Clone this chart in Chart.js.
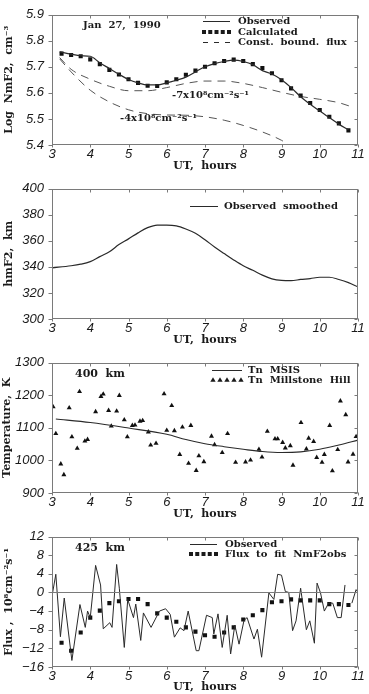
<!DOCTYPE html>
<html><head><meta charset="utf-8">
<script src="https://cdn.jsdelivr.net/npm/chart.js@4.4.1/dist/chart.umd.min.js"></script>
<style>
html,body{margin:0;padding:0;background:#fff;overflow:hidden;}
.p{position:absolute;left:0;width:369px;}
canvas{display:block;}
</style></head><body>
<div class="p" style="top:0px;height:174px"><canvas id="c1" width="369" height="174"></canvas></div>
<div class="p" style="top:174px;height:174px"><canvas id="c2" width="369" height="174"></canvas></div>
<div class="p" style="top:348px;height:174px"><canvas id="c3" width="369" height="174"></canvas></div>
<div class="p" style="top:522px;height:172px"><canvas id="c4" width="369" height="172"></canvas></div>
<script>
// ---------- DATA ----------
const xTicks = [3,4,5,6,7,8,9,10,11];

// Panel 1: Log NmF2
const nmObsX = [3.2,3.5,3.75,4.0,4.25,4.5,4.75,5.0,5.25,5.5,5.75,6.0,6.25,6.5,6.75,7.0,7.25,7.5,7.75,8.0,8.25,8.5,8.75,9.0,9.25,9.5,9.75,10.0,10.25,10.5,10.75];
const nmObsY = [5.757,5.748,5.742,5.74,5.715,5.693,5.671,5.651,5.638,5.63,5.63,5.638,5.648,5.66,5.68,5.70,5.712,5.72,5.725,5.72,5.708,5.685,5.672,5.65,5.62,5.585,5.556,5.53,5.505,5.48,5.458];
const nmCalcX = [3.25,3.5,3.75,4.0,4.25,4.5,4.75,5.0,5.25,5.5,5.75,6.0,6.25,6.5,6.75,7.0,7.25,7.5,7.75,8.0,8.25,8.5,8.75,9.0,9.25,9.5,9.75,10.0,10.25,10.5,10.75];
const nmCalcY = [5.75,5.745,5.74,5.728,5.71,5.688,5.67,5.652,5.638,5.627,5.626,5.64,5.652,5.669,5.685,5.70,5.713,5.722,5.727,5.722,5.71,5.695,5.675,5.648,5.617,5.589,5.561,5.534,5.508,5.483,5.456];
const flux7X = [3.2,3.5,4.0,4.5,5.0,5.5,6.0,6.5,7.0,7.5,8.0,8.5,9.0,9.5,10.0,10.5,10.9];
const flux7Y = [5.735,5.69,5.652,5.625,5.608,5.608,5.62,5.636,5.645,5.645,5.636,5.62,5.602,5.586,5.575,5.562,5.543];
const flux4X = [3.2,3.5,4.0,4.5,5.0,5.5,6.0,6.5,7.0,7.5,8.0,8.5,9.0,9.25];
const flux4Y = [5.73,5.68,5.61,5.565,5.535,5.52,5.515,5.514,5.508,5.495,5.475,5.45,5.418,5.395];
const nmTicks = [5.4,5.5,5.6,5.7,5.8,5.9];

// Panel 2: hmF2
const hmX = [3,3.5,3.75,4,4.25,4.5,4.75,5,5.25,5.5,5.75,6,6.25,6.5,6.75,7,7.25,7.5,7.75,8,8.25,8.5,8.75,9,9.25,9.5,9.75,10,10.25,10.5,10.75,11];
const hmY = [339.2,340.8,342,344,347.8,351.5,357,361.4,366,370,372,372,371.4,369,365.7,360.7,355.2,350.2,345.3,340.8,337.3,333.6,330.8,329.6,329.4,330.3,331,332,332,330.3,327.9,324.6];
const hmTicks = [300,320,340,360,380,400];

// Panel 3: Temperature
const msisX = [3.1,4,5,6,6.5,7,7.5,8,8.5,9,9.5,10,10.5,11];
const msisY = [1127,1116,1099,1080,1064,1051,1042,1034,1027,1024,1026,1034,1047,1062];
const tnX = [3.03,3.1,3.23,3.31,3.45,3.52,3.66,3.72,3.86,3.93,4.14,4.28,4.34,4.48,4.55,4.69,4.76,4.89,4.97,5.1,5.17,5.3,5.37,5.52,5.58,5.72,5.93,6.0,6.13,6.2,6.34,6.41,
  6.57,6.63,6.77,6.84,6.97,7.17,7.25,7.45,7.59,7.8,8.06,8.19,8.41,8.49,8.63,8.83,8.9,9.03,9.1,9.23,9.3,9.51,9.65,9.71,9.84,9.92,10.06,10.12,10.26,10.33,10.47,10.54,10.68,10.74,10.87,10.95];
const tnY = [1164,1082,989,956,1161,1072,1037,1211,1059,1064,1149,1196,1203,1153,1105,1151,1199,1124,1072,1107,1108,1120,1122,1087,1047,1052,1204,1092,1168,1091,1018,1102,
  991,1107,969,1014,996,1074,1048,1024,1082,994,995,1001,1034,1010,1089,1066,1066,1055,1038,1045,985,1116,1035,1068,1058,1009,994,1018,1107,968,1033,1182,1140,995,1019,1073];
const tTicks = [900,1000,1100,1200,1300];

// Panel 4: Flux
const fxObsX = [3.0,3.1,3.22,3.32,3.52,3.73,3.87,3.93,4.0,4.14,4.27,4.34,4.51,4.57,4.69,4.76,4.89,4.98,5.13,5.19,5.32,5.39,5.59,5.81,5.97,6.09,6.2,6.35,6.45,6.56,6.77,6.84,
  7.04,7.19,7.23,7.34,7.45,7.58,7.67,7.78,7.89,8.02,8.1,8.28,8.37,8.48,8.67,8.8,8.9,9.0,9.1,9.19,9.29,9.38,9.5,9.65,9.74,9.86,9.93,10.02,10.12,10.23,10.34,10.46,10.56,10.66,10.75,10.84,10.95,11.0];
const fxObsY = [-0.8,3.9,-9.5,-1.2,-14.6,-2.6,-7.5,-4.0,-5.4,5.8,1.6,-7.8,-6.5,-7.5,6.0,0.9,-11.8,-1.5,-5.4,-2.5,-10.3,-4.4,-7.5,-4.0,-3.5,-4.7,-9.6,-7.6,-8.2,-4.0,-12.5,-12.5,
  -4.9,-5.4,-8.9,-4.6,-11.8,-4.9,-13.2,-7.0,-11.1,-6.0,-5.4,-10.0,-7.9,-13.9,-0.1,-1.5,3.9,3.7,0.2,0.0,-8.2,-6.1,0.9,-8.0,-6.1,-10.9,2.0,-0.1,-4.0,-2.3,-2.3,-5.4,-5.4,1.6,null,-2.3,0.6,0.0];
const fitX = [3.25,3.5,3.75,4.0,4.25,4.5,4.75,5.0,5.25,5.5,5.75,6.0,6.25,6.5,6.75,7.0,7.25,7.5,7.75,8.0,8.25,8.5,8.75,9.0,9.25,9.5,9.75,10.0,10.25,10.5,10.75];
const fitY = [-10.8,-12.5,-8.6,-5.4,-3.9,-2.3,-1.9,-1.4,-1.4,-2.5,-4.5,-5.4,-6.3,-7.5,-8.4,-9.2,-9.5,-8.6,-7.5,-5.8,-4.9,-3.8,-2.1,-1.9,-1.5,-1.7,-1.7,-1.7,-2.5,-2.5,-2.7];
const fxTicks = [-16,-12,-8,-4,0,4,8,12];

// ---------- HELPERS ----------
const INK = '#1a1a1a', FRAME = '#7a7a7a', LINE = '#2a2a2a';
const SERIF = '"DejaVu Serif", "Liberation Serif", serif';
const serifB = s => ({family: SERIF, size: s, weight: 'bold', lineHeight: 1});
const tickFont = {family: '"Liberation Sans", Arial, sans-serif', size: 13, style: 'italic', lineHeight: 1};
const pts = (xs, ys) => xs.map((x, i) => ({x: x, y: ys[i]}));

function drawTri(ctx, x, y, r) {
  ctx.beginPath();
  ctx.moveTo(x, y - r);
  ctx.lineTo(x + r * 0.95, y + r * 0.65);
  ctx.lineTo(x - r * 0.95, y + r * 0.65);
  ctx.closePath(); ctx.fill();
}

function seg(ctx, x0, y0, x1, y1) {
  ctx.beginPath(); ctx.moveTo(x0, y0); ctx.lineTo(x1, y1); ctx.stroke();
}

function drawFrame(chart, cfg) {
  const ctx = chart.ctx, a = chart.chartArea, xs = chart.scales.x, ys = chart.scales.y;
  ctx.save();
  ctx.strokeStyle = FRAME; ctx.lineWidth = 1;
  const L = Math.round(a.left) + 0.5, R = Math.round(a.right) - 0.5, T = Math.round(a.top) + 0.5, B = Math.round(a.bottom) - 0.5;
  if (cfg.zero) {
    const py = Math.round(ys.getPixelForValue(0)) + 0.5;
    seg(ctx, L, py, R, py);
  }
  ctx.strokeRect(L, T, R - L, B - T);
  xTicks.forEach(v => {
    const px = Math.round(xs.getPixelForValue(v)) + 0.5;
    seg(ctx, px, B, px, B + 3);
    seg(ctx, px, T, px, T + 3);
  });
  cfg.yticks.forEach(v => {
    const py = Math.round(ys.getPixelForValue(v)) + 0.5;
    seg(ctx, L - 4, py, L, py);
    seg(ctx, R, py, R - 3, py);
  });
  ctx.restore();
}

function drawDecor(chart, cfg) {
  const ctx = chart.ctx;
  ctx.save();
  ctx.fillStyle = INK; ctx.strokeStyle = LINE;
  ctx.textBaseline = 'middle'; ctx.textAlign = 'left';
  (cfg.texts || []).forEach(t => {
    ctx.font = 'bold ' + t.size + 'px ' + SERIF;
    ctx.fillText(t.t, t.x, t.y);
  });
  (cfg.legend || []).forEach(it => {
    ctx.lineWidth = 1;
    if (it.kind === 'line') {
      seg(ctx, it.x0, it.y + 0.5, it.x1, it.y + 0.5);
    } else if (it.kind === 'dash') {
      ctx.setLineDash([5, 6]);
      seg(ctx, it.x0, it.y + 0.5, it.x1, it.y + 0.5);
      ctx.setLineDash([]);
    } else if (it.kind === 'rect') {
      for (let i = 0; i < 5; i++) {
        const px = it.x0 + (it.x1 - it.x0) * i / 4;
        ctx.fillRect(px - 2, it.y - 2, 4, 4);
      }
    } else if (it.kind === 'tri') {
      for (let i = 0; i < 5; i++) {
        const px = it.x0 + (it.x1 - it.x0) * i / 4;
        drawTri(ctx, px, it.y, 2.8);
      }
    }
    ctx.font = 'bold ' + (it.size || 10) + 'px ' + SERIF;
    ctx.fillText(it.t, it.tx, it.y);
  });
  ctx.restore();
}

function makeChart(id, datasets, c) {
  const plug = {
    id: 'deco_' + id,
    afterDraw(chart) { drawFrame(chart, c); drawDecor(chart, c); }
  };
  return new Chart(document.getElementById(id), {
    type: 'line',
    data: {datasets: datasets},
    plugins: [plug],
    options: {
      responsive: false, animation: false, devicePixelRatio: 1,
      layout: {padding: {top: c.top, right: 11, left: 0, bottom: 0}},
      plugins: {legend: {display: false}, tooltip: {enabled: false}},
      elements: {point: {radius: 0}},
      scales: {
        x: {
          type: 'linear', min: 3, max: 11,
          afterFit: s => { s.height = c.xh; },
          afterBuildTicks: s => { s.ticks = xTicks.map(v => ({value: v})); },
          grid: {display: false, drawTicks: false, tickLength: 0}, border: {display: false},
          ticks: {padding: 3, color: INK, font: tickFont, maxRotation: 0, autoSkip: false, callback: v => String(v)},
          title: {display: true, text: 'UT,  hours', color: INK, font: serifB(11), padding: {top: 0, bottom: c.xtpad}}
        },
        y: {
          type: 'linear', min: c.ymin, max: c.ymax,
          afterFit: s => { s.width = 52; },
          afterBuildTicks: s => { s.ticks = c.yticks.map(v => ({value: v})); },
          grid: {display: false, drawTicks: false, tickLength: 0}, border: {display: false},
          ticks: {padding: 8, color: INK, font: tickFont, autoSkip: false, callback: c.yfmt},
          title: {display: true, text: c.ytitle, color: INK, font: serifB(11), padding: {top: c.tpad, bottom: 0}}
        }
      }
    }
  });
}

// ---------- PANEL 1 ----------
makeChart('c1', [
  {data: pts(nmObsX, nmObsY), borderColor: LINE, borderWidth: 1.2, pointRadius: 0, cubicInterpolationMode: 'monotone'},
  {data: pts(nmCalcX, nmCalcY), showLine: false, pointStyle: 'rect', pointRadius: 2.9, backgroundColor: '#111', borderWidth: 0},
  {data: pts(flux7X, flux7Y), borderColor: '#555', borderWidth: 1, borderDash: [8, 6], pointRadius: 0, cubicInterpolationMode: 'monotone'},
  {data: pts(flux4X, flux4Y), borderColor: '#555', borderWidth: 1, borderDash: [8, 6], pointRadius: 0, cubicInterpolationMode: 'monotone'}
], {
  top: 11, xh: 29, xtpad: 2, ymin: 5.4, ymax: 5.9, yticks: nmTicks, yfmt: v => v.toFixed(1),
  ytitle: 'Log  NmF2,  cm⁻³', tpad: 4,
  texts: [
    {t: 'Jan  27,  1990', x: 83, y: 25, size: 10},
    {t: '-7x10⁸cm⁻²s⁻¹', x: 172, y: 95, size: 10},
    {t: '-4x10⁸cm⁻²s⁻¹', x: 120, y: 118, size: 10}
  ],
  legend: [
    {kind: 'line', x0: 203, x1: 230, y: 21, t: 'Observed', tx: 238},
    {kind: 'rect', x0: 204, x1: 229, y: 32, t: 'Calculated', tx: 238},
    {kind: 'dash', x0: 203, x1: 230, y: 42, t: 'Const.  bound.  flux', tx: 238}
  ]
});

// ---------- PANEL 2 ----------
makeChart('c2', [
  {data: pts(hmX, hmY), borderColor: LINE, borderWidth: 1.2, pointRadius: 0, cubicInterpolationMode: 'monotone'}
], {
  top: 11, xh: 29, xtpad: 2, ymin: 300, ymax: 400, yticks: hmTicks, yfmt: v => String(v),
  ytitle: 'hmF2,  km', tpad: 4,
  texts: [],
  legend: [
    {kind: 'line', x0: 190, x1: 218, y: 32, t: 'Observed  smoothed', tx: 224}
  ]
});

// ---------- PANEL 3 ----------
makeChart('c3', [
  {data: pts(msisX, msisY), borderColor: LINE, borderWidth: 1.1, pointRadius: 0, cubicInterpolationMode: 'monotone'},
  {data: pts(tnX, tnY), showLine: false, pointStyle: 'triangle', pointRadius: 2.9, backgroundColor: '#111', borderColor: '#111', borderWidth: 0}
], {
  top: 12, xh: 29, xtpad: 2, ymin: 900, ymax: 1300, yticks: tTicks, yfmt: v => String(v),
  ytitle: 'Temperature,  K', tpad: 2,
  texts: [{t: '400  km', x: 75, y: 26, size: 11}],
  legend: [
    {kind: 'line', x0: 212, x1: 242, y: 22, t: 'Tn  MSIS', tx: 248},
    {kind: 'tri', x0: 213, x1: 241, y: 32, t: 'Tn  Millstone  Hill', tx: 248}
  ]
});

// ---------- PANEL 4 ----------
makeChart('c4', [
  {data: pts(fxObsX, fxObsY), borderColor: LINE, borderWidth: 1, pointRadius: 0, tension: 0, spanGaps: false},
  {data: pts(fitX, fitY), showLine: false, pointStyle: 'rect', pointRadius: 2.9, backgroundColor: '#111', borderWidth: 0}
], {
  top: 12, xh: 27, xtpad: 1, ymin: -16, ymax: 12, yticks: fxTicks, yfmt: v => (v < 0 ? '−' + Math.abs(v) : String(v)),
  ytitle: 'Flux ,  10⁸cm⁻²s⁻¹', tpad: 4, zero: true,
  texts: [{t: '425  km', x: 75, y: 26, size: 11}],
  legend: [
    {kind: 'line', x0: 190, x1: 217, y: 22, t: 'Observed', tx: 225},
    {kind: 'rect', x0: 191, x1: 216, y: 32, t: 'Flux  to  fit  NmF2obs', tx: 225}
  ]
});
</script>
</body></html>
